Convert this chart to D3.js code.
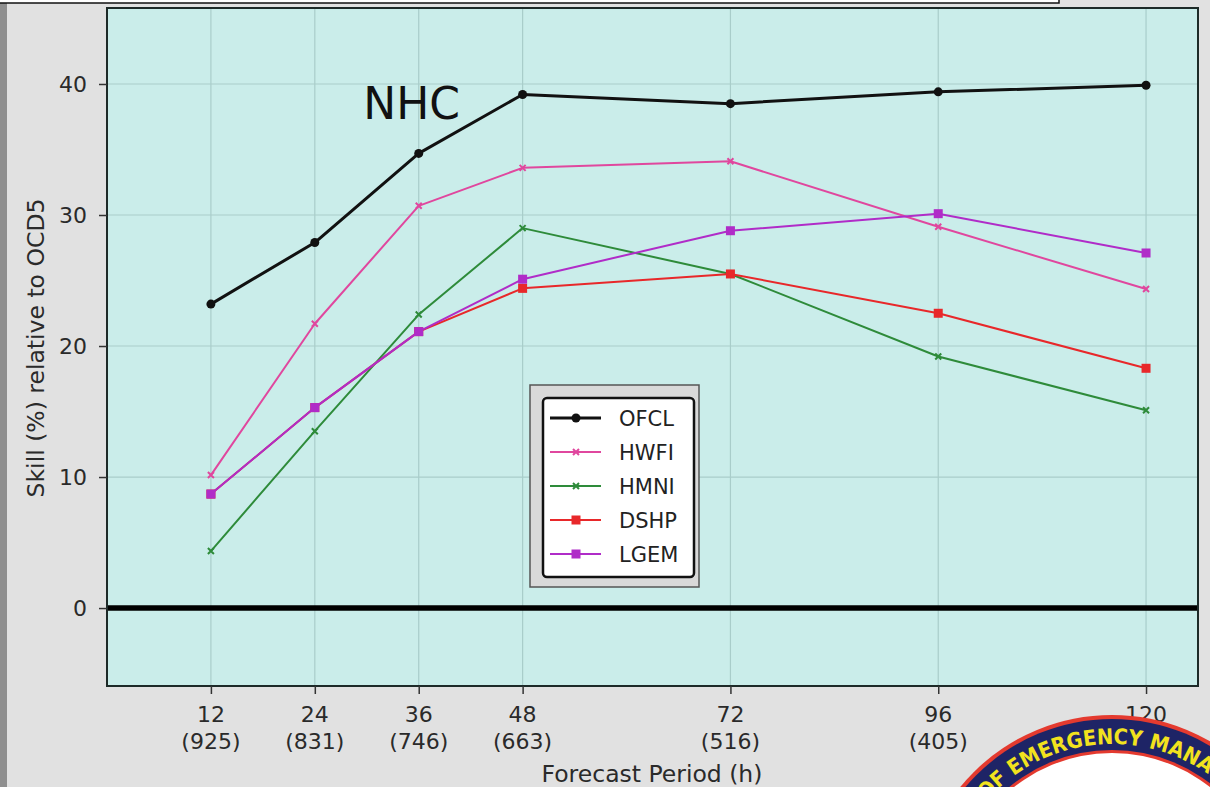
<!DOCTYPE html>
<html>
<head>
<meta charset="utf-8">
<script src="https://cdn.jsdelivr.net/npm/d3@7"></script>
<style>
  html, body { margin: 0; padding: 0; background: #e1e1e1; }
  svg { display: block; }
</style>
</head>
<body>
<svg id="chart" width="1210" height="787"></svg>
<script>
const hours = [12, 24, 36, 48, 72, 96, 120];
const caseLabels = ["(925)", "(831)", "(746)", "(663)", "(516)", "(405)", ""];
const yTicks = [0, 10, 20, 30, 40];
const seriesNames = ["OFCL", "HWFI", "HMNI", "DSHP", "LGEM"];
const OFCL = [23.2, 27.9, 34.7, 39.2, 38.5, 39.4, 39.9];
const HWFI = [10.15, 21.7, 30.7, 33.6, 34.1, 29.1, 24.35];
const HMNI = [4.35, 13.5, 22.4, 29.0, 25.5, 19.2, 15.1];
const DSHP = [8.7, 15.3, 21.1, 24.4, 25.5, 22.5, 18.3];
const LGEM = [8.7, 15.3, 21.1, 25.1, 28.8, 30.1, 27.1];

const seriesData = [OFCL, HWFI, HMNI, DSHP, LGEM];
const styles = {
  OFCL: { color: "#111111", width: 3, marker: "circle", size: 4.5 },
  HWFI: { color: "#e0479e", width: 2, marker: "x", size: 3 },
  HMNI: { color: "#2e8b3a", width: 2, marker: "x", size: 3 },
  DSHP: { color: "#e8282a", width: 2, marker: "square", size: 4.5 },
  LGEM: { color: "#b02cc8", width: 2, marker: "square", size: 4.5 }
};
const drawOrder = ["HMNI", "HWFI", "DSHP", "LGEM", "OFCL"];

const svg = d3.select("#chart");
const font = "'DejaVu Sans', sans-serif";
const textColor = "#2a2a2a";

// page decorations
svg.append("rect").attr("x", 0).attr("y", 0).attr("width", 1210).attr("height", 787).attr("fill", "#e1e1e1");
svg.append("rect").attr("x", 0).attr("y", 0).attr("width", 7).attr("height", 787).attr("fill", "#8f8f8f");
svg.append("rect").attr("x", -2).attr("y", -4).attr("width", 1061).attr("height", 7)
  .attr("fill", "#ffffff").attr("stroke", "#111").attr("stroke-width", 1.5);

const pL = 107, pR = 1198, pT = 8, pB = 686;
const x = d3.scaleLinear().domain([0, 126]).range([pL, pR]);
const y = d3.scaleLinear().domain([-5.95, 45.8]).range([pB, pT]);

// plot background
svg.append("rect").attr("x", pL).attr("y", pT).attr("width", pR - pL).attr("height", pB - pT)
  .attr("fill", "#caedea");

// grid
const g = svg.append("g");
g.selectAll(".vgrid").data(hours).enter().append("line")
  .attr("x1", d => x(d)).attr("x2", d => x(d)).attr("y1", pT).attr("y2", pB)
  .attr("stroke", "#a9cdca").attr("stroke-width", 1.2);
g.selectAll(".hgrid").data(yTicks).enter().append("line")
  .attr("y1", d => y(d)).attr("y2", d => y(d)).attr("x1", pL).attr("x2", pR)
  .attr("stroke", "#a9cdca").attr("stroke-width", 1.2);

// zero line
svg.append("line").attr("x1", pL).attr("x2", pR).attr("y1", y(0)).attr("y2", y(0))
  .attr("stroke", "#000").attr("stroke-width", 5.5);

// NHC label
svg.append("text").attr("x", x(29.6)).attr("y", y(37.3)).text("NHC")
  .attr("font-family", font).attr("font-size", 44).attr("fill", "#111");

// series
const line = d3.line().x((d, i) => x(hours[i])).y(d => y(d));
drawOrder.forEach(name => {
  const data = seriesData[seriesNames.indexOf(name)];
  const st = styles[name];
  svg.append("path").datum(data).attr("d", line).attr("fill", "none")
    .attr("stroke", st.color).attr("stroke-width", st.width).attr("stroke-linejoin", "round");
  const mg = svg.append("g");
  data.forEach((v, i) => drawMarker(mg, x(hours[i]), y(v), st));
});

function drawMarker(sel, cx, cy, st) {
  if (st.marker === "circle") {
    sel.append("circle").attr("cx", cx).attr("cy", cy).attr("r", st.size).attr("fill", st.color);
  } else if (st.marker === "square") {
    sel.append("rect").attr("x", cx - st.size).attr("y", cy - st.size)
      .attr("width", st.size * 2).attr("height", st.size * 2).attr("fill", st.color);
  } else {
    const s = st.size;
    sel.append("path").attr("d", `M${cx - s},${cy - s}L${cx + s},${cy + s}M${cx - s},${cy + s}L${cx + s},${cy - s}`)
      .attr("stroke", st.color).attr("stroke-width", 2);
  }
}

// frame
svg.append("rect").attr("x", pL).attr("y", pT).attr("width", pR - pL).attr("height", pB - pT)
  .attr("fill", "none").attr("stroke", "#1d2a28").attr("stroke-width", 2);

// y axis ticks
const yAxis = d3.axisLeft(y).tickValues(yTicks).tickSize(8).tickFormat("");
const ya = svg.append("g").attr("transform", `translate(${pL},0)`).call(yAxis);
ya.select(".domain").remove();
ya.selectAll("line").attr("stroke", "#333").attr("stroke-width", 1.5);
ya.selectAll(".tick text").remove();

// x axis ticks
const xAxis = d3.axisBottom(x).tickValues(hours).tickSize(8).tickFormat("");
const xa = svg.append("g").attr("transform", `translate(0,${pB})`).call(xAxis);
xa.select(".domain").remove();
xa.selectAll("line").attr("stroke", "#333").attr("stroke-width", 1.5);
xa.selectAll(".tick text").remove();

// tick labels positioned through the scales
const labels = svg.append("g").attr("font-family", font).attr("font-size", 22).attr("fill", textColor);
labels.selectAll(".ylab").data(yTicks).enter().append("text")
  .attr("class", "ylab").attr("x", pL - 20).attr("y", d => y(d) + 8).attr("text-anchor", "end")
  .text(d => d);
labels.selectAll(".xlab").data(hours).enter().append("text")
  .attr("class", "xlab").attr("x", d => x(d)).attr("y", pB + 36).attr("text-anchor", "middle")
  .text(d => d);
labels.selectAll(".clab").data(hours.filter((d, i) => caseLabels[i] !== "")).enter().append("text")
  .attr("class", "clab").attr("x", d => x(d)).attr("y", pB + 63).attr("text-anchor", "middle")
  .text(d => caseLabels[hours.indexOf(d)]);

// axis titles
svg.append("text").attr("x", 652).attr("y", 782).attr("text-anchor", "middle")
  .attr("font-family", font).attr("font-size", 23.5).attr("fill", textColor).text("Forecast Period (h)");
svg.append("text").attr("x", 44).attr("y", 348).attr("transform", "rotate(-90 44 348)").attr("text-anchor", "middle")
  .attr("font-family", font).attr("font-size", 23.5).attr("fill", textColor).text("Skill (%) relative to OCD5");

// legend
const lg = svg.append("g");
lg.append("rect").attr("x", 530).attr("y", 385).attr("width", 169).attr("height", 202)
  .attr("fill", "#d9d9d9").attr("stroke", "#555").attr("stroke-width", 1.5);
lg.append("rect").attr("x", 543).attr("y", 398).attr("width", 151).attr("height", 179).attr("rx", 4)
  .attr("fill", "#ffffff").attr("stroke", "#111").attr("stroke-width", 2.5);
seriesNames.forEach((name, i) => {
  const st = styles[name];
  const ry = 418 + i * 34;
  lg.append("line").attr("x1", 550).attr("x2", 601).attr("y1", ry).attr("y2", ry)
    .attr("stroke", st.color).attr("stroke-width", st.width);
  drawMarker(lg, 576, ry, st);
  lg.append("text").attr("x", 619).attr("y", ry + 8).text(name)
    .attr("font-family", font).attr("font-size", 21).attr("fill", "#222");
});

// logo (partially visible badge in the corner)
const logo = svg.append("g");
const lcx = 1112, lcy = 911;
logo.append("circle").attr("cx", lcx).attr("cy", lcy).attr("r", 196).attr("fill", "#e43a2f");
logo.append("circle").attr("cx", lcx).attr("cy", lcy).attr("r", 192).attr("fill", "#1e2466");
logo.append("circle").attr("cx", lcx).attr("cy", lcy).attr("r", 161).attr("fill", "#e43a2f");
logo.append("circle").attr("cx", lcx).attr("cy", lcy).attr("r", 158).attr("fill", "#ffffff");
const arcR = 167;
logo.append("path").attr("id", "logoArc")
  .attr("d", `M${lcx - arcR},${lcy} A${arcR},${arcR} 0 0 1 ${lcx + arcR},${lcy}`)
  .attr("fill", "none");
logo.append("text").attr("font-family", font).attr("font-weight", "bold").attr("font-size", 21.5)
  .attr("fill", "#f2e21e")
  .append("textPath").attr("href", "#logoArc").attr("startOffset", "44.8%").attr("text-anchor", "middle")
  .attr("textLength", 442).attr("lengthAdjust", "spacingAndGlyphs")
  .text("DIVISION OF EMERGENCY MANAGEMENT");
</script>
</body>
</html>
